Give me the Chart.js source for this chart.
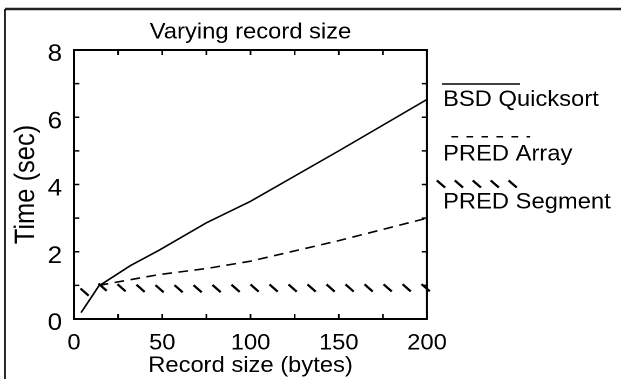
<!DOCTYPE html>
<html>
<head>
<meta charset="utf-8">
<script src="https://cdn.jsdelivr.net/npm/chart.js@4/dist/chart.umd.min.js"></script>
<style>
  html, body { margin: 0; padding: 0; background: #fff; overflow: hidden; }
  /* the reference is drawn a little wide, so the chart is stretched sideways */
  #wrap { width: 575px; height: 379px; transform: scaleX(1.08); transform-origin: 0 0; }
</style>
</head>
<body>
<div id="wrap"><canvas id="recordChart"></canvas></div>
<script>
const seriesNames = ['BSD Quicksort', 'PRED Array', 'PRED Segment'];

const sizesBSD = [4, 10, 14, 32, 48, 75, 100, 150, 200];
const timesBSD = [0.19, 0.66, 0.98, 1.59, 2.04, 2.86, 3.5, 5.0, 6.53];

const sizesArray = [14, 32, 48, 75, 100, 150, 200];
const timesArray = [1.0, 1.17, 1.32, 1.5, 1.72, 2.33, 3.0];

const sizesSegment = [6, 14, 32, 48, 75, 100, 150, 200];
const timesSegment = [0.8, 0.95, 0.92, 0.9, 0.9, 0.92, 0.92, 0.93];

const xTicks = [0, 50, 100, 150, 200];
const yTicks = [0, 2, 4, 6, 8];

const FONT = '"Liberation Sans", Arial, Helvetica, sans-serif';
Chart.defaults.font.family = FONT;
Chart.defaults.font.size = 22;
Chart.defaults.color = '#000';

const toPoints = (xs, ys) => xs.map((x, i) => ({x: x, y: ys[i]}));

// little '\' strokes spaced along a polyline
function hatchAlong(ctx, pts, step) {
    let carry = 0;
    for (let i = 0; i < pts.length - 1; i++) {
        const a = pts[i], b = pts[i + 1];
        const len = Math.hypot(b.x - a.x, b.y - a.y);
        let d = carry;
        while (d <= len) {
            const t = len ? d / len : 0;
            const x = a.x + (b.x - a.x) * t, y = a.y + (b.y - a.y) * t;
            ctx.moveTo(x - 3.8, y - 3.6);
            ctx.lineTo(x + 3.8, y + 3.6);
            d += step;
        }
        carry = d - len;
    }
}

const decor = {
    id: 'decor',
    afterDatasetsDraw(chart) {
        const ctx = chart.ctx;
        const pts = chart.getDatasetMeta(2).data.map(p => ({x: p.x, y: p.y}));
        ctx.save();
        ctx.strokeStyle = '#000';
        ctx.lineWidth = 2.2;
        ctx.beginPath();
        hatchAlong(ctx, pts, 17.6);
        ctx.stroke();
        ctx.restore();
    },
    afterDraw(chart) {
        const ctx = chart.ctx;
        const a = chart.chartArea;
        const xs = chart.scales.x, ys = chart.scales.y;
        ctx.save();
        ctx.strokeStyle = '#000';

        // outer frame (top and left only)
        ctx.lineWidth = 2.5;
        ctx.strokeStyle = '#222';
        ctx.beginPath();
        ctx.moveTo(4.6, 9); ctx.lineTo(chart.width, 9);
        ctx.stroke();
        ctx.lineWidth = 1.5;
        ctx.strokeStyle = '#000';
        ctx.beginPath();
        ctx.moveTo(4.6, 9); ctx.lineTo(4.6, chart.height);
        ctx.stroke();

        // top and right side of the plot box
        ctx.lineWidth = 2;
        ctx.beginPath();
        ctx.moveTo(a.left, a.top); ctx.lineTo(a.right, a.top); ctx.lineTo(a.right, a.bottom);
        ctx.stroke();

        // inward ticks on all four sides
        ctx.lineWidth = 1.6;
        ctx.beginPath();
        for (let v = 0; v <= 200; v += 25) {
            const px = xs.getPixelForValue(v);
            ctx.moveTo(px, a.bottom); ctx.lineTo(px, a.bottom - 5);
            ctx.moveTo(px, a.top); ctx.lineTo(px, a.top + 5);
        }
        for (let v = 0; v <= 8; v += 1) {
            const py = ys.getPixelForValue(v);
            ctx.moveTo(a.left, py); ctx.lineTo(a.left + 5, py);
            ctx.moveTo(a.right, py); ctx.lineTo(a.right - 5, py);
        }
        ctx.stroke();

        // title
        ctx.fillStyle = '#000';
        ctx.font = '22px ' + FONT;
        ctx.textAlign = 'center';
        ctx.textBaseline = 'alphabetic';
        ctx.fillText('Varying record size', (a.left + a.right) / 2, 38.3);

        // legend: sample line above each name
        const lx = 409.3, lw = 72.2;
        ctx.textAlign = 'left';
        ctx.fillText(seriesNames[0], 410.2, 106);
        ctx.fillText(seriesNames[1], 410.2, 160.7);
        ctx.fillText(seriesNames[2], 410.2, 208.3);

        ctx.lineWidth = 1.5;
        ctx.beginPath();
        ctx.moveTo(lx, 84); ctx.lineTo(lx + lw, 84);
        ctx.stroke();

        ctx.setLineDash([6.2, 7.7]);
        ctx.beginPath();
        ctx.moveTo(418, 136.7); ctx.lineTo(491, 136.7);
        ctx.stroke();
        ctx.setLineDash([]);

        ctx.lineWidth = 2.2;
        ctx.beginPath();
        hatchAlong(ctx, [{x: 408.3, y: 184}, {x: 476, y: 184}], 16.6);
        ctx.stroke();
        ctx.restore();
    }
};

const ctx = document.getElementById('recordChart').getContext('2d');
const recordChart = new Chart(ctx, {
    type: 'line',
    data: {
        datasets: [{
            label: seriesNames[0],
            data: toPoints(sizesBSD, timesBSD),
            borderColor: '#000',
            borderWidth: 1.6,
            pointRadius: 0
        }, {
            label: seriesNames[1],
            data: toPoints(sizesArray, timesArray),
            borderColor: '#000',
            borderWidth: 1.6,
            borderDash: [9, 6],
            pointRadius: 0
        }, {
            label: seriesNames[2],
            data: toPoints(sizesSegment, timesSegment),
            borderColor: 'rgba(0,0,0,0)',
            showLine: false,
            pointRadius: 0
        }]
    },
    options: {
        responsive: true,
        maintainAspectRatio: false,
        animation: false,
        devicePixelRatio: 2,
        layout: { padding: { left: 5.2, right: 179.6, top: 50, bottom: 0 } },
        plugins: {
            legend: { display: false },
            tooltip: { enabled: false }
        },
        scales: {
            x: {
                type: 'linear',
                min: 0,
                max: 200,
                afterBuildTicks: axis => { axis.ticks = xTicks.map(v => ({value: v})); },
                afterFit: axis => { axis.height = 60; },
                grid: { display: false, drawTicks: false },
                border: { display: true, color: '#000', width: 2 },
                ticks: { padding: 11, maxRotation: 0, autoSkip: false },
                title: { display: true, text: 'Record size (bytes)', padding: { top: 8, bottom: 0 } }
            },
            y: {
                min: 0,
                max: 8,
                afterBuildTicks: axis => { axis.ticks = yTicks.map(v => ({value: v})); },
                afterFit: axis => { axis.width = 63.3; },
                grid: { display: false, drawTicks: false },
                border: { display: true, color: '#000', width: 2 },
                ticks: { padding: 11, labelOffset: 4.5, autoSkip: false, font: { size: 24 } },
                title: { display: true, text: 'Time (sec)', font: { size: 25.5 }, padding: { top: 4, bottom: 4 } }
            }
        }
    },
    plugins: [decor]
});
</script>
</body>
</html>
